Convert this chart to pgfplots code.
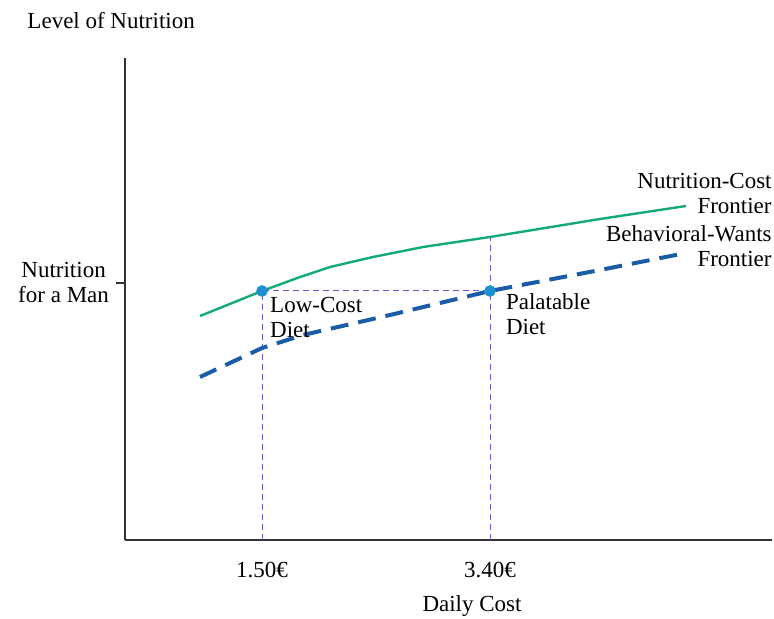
\documentclass[border=0pt]{standalone}
\usepackage{fontspec}
\setmainfont{Liberation Serif}
\usepackage{pgfplots}
\pgfplotsset{compat=1.18}

\definecolor{frontgreen}{HTML}{12A97C}
\definecolor{wantblue}{HTML}{1A5CA8}
\definecolor{dotblue}{HTML}{1E90D2}
\definecolor{guide}{HTML}{6A5BC8}

\begin{document}
\begin{tikzpicture}[font=\fontsize{11.5}{12.5}\selectfont]
\begin{axis}[
    scale only axis,
    width=323.5pt, height=241pt,
    xmin=0.358, xmax=5.75,
    ymin=0, ymax=482,
    axis lines=left,
    axis line style={-, black!80, line width=0.6pt},
    clip=false,
    xtick={1.5,3.4},
    xticklabels={1.50€, 3.40€},
    x tick style={draw=none},
    xticklabel style={yshift=-3pt},
    ytick={257},
    yticklabels={Nutrition\\for a Man},
    yticklabel style={align=center},
    y tick style={black!80, line width=0.6pt},
    tick align=outside,
    major tick length=4.5pt,
]
% guide lines
\addplot[guide, densely dashed, line width=0.5pt] coordinates {(1.5,0) (1.5,249) (3.4,249) (3.4,0)};
\addplot[guide, densely dashed, line width=0.5pt] coordinates {(3.4,249) (3.4,303)};

% Nutrition-Cost frontier
\addplot[frontgreen, line width=1.2pt] coordinates {
    (0.983,224) (1.5,249) (1.817,263) (2.067,273) (2.425,283) (2.842,293) (3.4,303) (4.317,321) (5.033,334)
};
% Behavioral-Wants frontier
\addplot[wantblue, line width=2pt, dash pattern=on 9pt off 5pt] coordinates {
    (0.983,163) (1.5,192) (1.842,205) (2.567,225) (3.4,249) (4.317,270) (5.033,287)
};
% diets
\addplot[only marks, mark=*, mark size=2.7pt, color=dotblue] coordinates {(1.5,249) (3.4,249)};

\node[anchor=east, align=right, inner xsep=0pt] at (axis cs:5.75,346) {Nutrition-Cost\\Frontier};
\node[anchor=east, align=right, inner xsep=0pt] at (axis cs:5.75,294) {Behavioral-Wants\\Frontier};
\node[anchor=west, align=left, inner xsep=0pt] at (axis cs:1.565,222) {Low-Cost\\Diet};
\node[anchor=west, align=left, inner xsep=0pt] at (axis cs:3.53,226) {Palatable\\Diet};
\node[anchor=west, inner xsep=0pt] at (axis cs:-0.458,519) {Level of Nutrition};
\node at (axis cs:3.25,-66) {Daily Cost};

\coordinate (O) at (rel axis cs:0,0);
\end{axis}
\pgfresetboundingbox
\path[use as bounding box] (O) ++(-62.5pt,-39.5pt) rectangle ++(387pt,309.5pt);
\end{tikzpicture}
\end{document}
